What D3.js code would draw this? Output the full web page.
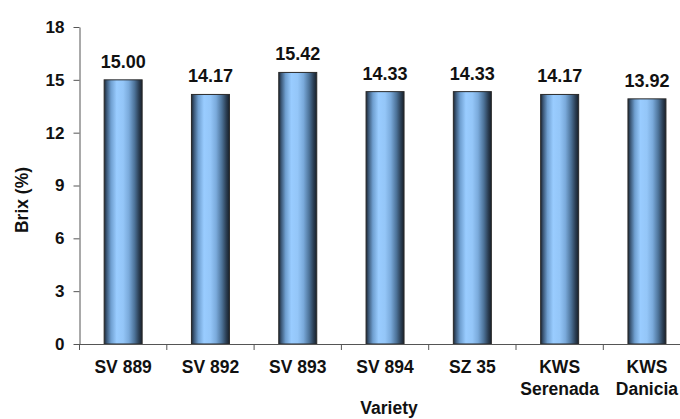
<!DOCTYPE html>
<html>
<head>
<meta charset="utf-8">
<script src="https://cdn.jsdelivr.net/npm/d3@7"></script>
<style>
  html, body { margin: 0; padding: 0; background: #fff; }
  svg { display: block; }
  text { font-family: "Liberation Sans", Arial, sans-serif; fill: #111; font-weight: bold; }
</style>
</head>
<body>
<svg id="chart" width="680" height="419"></svg>
<script>
const categories = ["SV 889", "SV 892", "SV 893", "SV 894", "SZ 35", "KWS Serenada", "KWS Danicia"];
const brixValues = [15.00, 14.17, 15.42, 14.33, 14.33, 14.17, 13.92];
const yTicks = [0, 3, 6, 9, 12, 15, 18];
const yTitle = "Brix (%)";
const xTitle = "Variety";

const svg = d3.select("#chart");
const plotLeft = 79.5, plotTop = 27, plotBottom = 344;
const band = 87.3;

const x = d3.scaleBand().domain(categories).range([plotLeft, plotLeft + band * categories.length]).paddingInner(0).paddingOuter(0);
const y = d3.scaleLinear().domain([0, 18]).range([plotBottom, plotTop]);

// gradient
const defs = svg.append("defs");
const grad = defs.append("linearGradient").attr("id", "barGrad").attr("x1", "0%").attr("x2", "100%").attr("y1", "0%").attr("y2", "0%");
[[0, "#1c2632"], [0.07, "#3d5a7a"], [0.18, "#6f9fd0"], [0.33, "#99ccff"], [0.5, "#94c6f8"], [0.65, "#7aaadb"], [0.8, "#4d7399"], [0.92, "#2a3d52"], [1, "#18202a"]]
  .forEach(([o, c]) => grad.append("stop").attr("offset", o).attr("stop-color", c));

const barW = 38;
svg.append("g").selectAll("rect").data(categories).join("rect")
  .attr("x", d => x(d) + x.bandwidth() / 2 - barW / 2)
  .attr("y", (d, i) => y(brixValues[i]))
  .attr("width", barW)
  .attr("height", (d, i) => y(0) - y(brixValues[i]))
  .attr("fill", "url(#barGrad)")
  .attr("stroke", "#2a2a2a")
  .attr("stroke-width", 1);

// value labels
svg.append("g").selectAll("text").data(categories).join("text")
  .attr("x", d => x(d) + x.bandwidth() / 2)
  .attr("y", (d, i) => y(brixValues[i]) - 12)
  .attr("text-anchor", "middle")
  .style("font-size", "18px")
  .text((d, i) => brixValues[i].toFixed(2));

// y axis
const yAxis = d3.axisLeft(y).tickValues(yTicks).tickSize(6).tickSizeOuter(0).tickPadding(9);
const gy = svg.append("g").attr("transform", `translate(${plotLeft},0)`).call(yAxis);
gy.selectAll("path, line").attr("stroke", "#555");
gy.selectAll("text").style("font-size", "17px").style("font-family", "Liberation Sans, Arial, sans-serif").style("font-weight", "bold").attr("fill", "#111");

// x axis
const xAxis = d3.axisBottom(x).tickSize(0).tickSizeOuter(0).tickFormat("");
const gx = svg.append("g").attr("transform", `translate(0,${plotBottom})`).call(xAxis);
gx.select("path").attr("stroke", "#555");
const bounds = d3.range(categories.length).map(i => x(categories[i]));
gx.selectAll("line.bt").data(bounds).join("line").attr("class", "bt")
  .attr("x1", d => d).attr("x2", d => d).attr("y1", 0).attr("y2", 6).attr("stroke", "#555");

// category labels (wrapped)
const lbl = svg.append("g").selectAll("text").data(categories).join("text")
  .attr("text-anchor", "middle")
  .style("font-size", "17.5px");
lbl.each(function(d) {
  const t = d3.select(this);
  const cx = x(d) + x.bandwidth() / 2;
  const parts = d.startsWith("KWS") ? ["KWS", d.slice(4)] : [d];
  parts.forEach((p, i) => t.append("tspan").attr("x", cx).attr("y", 373 + i * 22).text(p));
});

// titles
svg.append("text").attr("x", 389).attr("y", 414).attr("text-anchor", "middle").style("font-size", "17.5px").text(xTitle);
svg.append("text").attr("transform", "translate(28,200) rotate(-90)").attr("text-anchor", "middle").style("font-size", "17.5px").text(yTitle);
</script>
</body>
</html>
